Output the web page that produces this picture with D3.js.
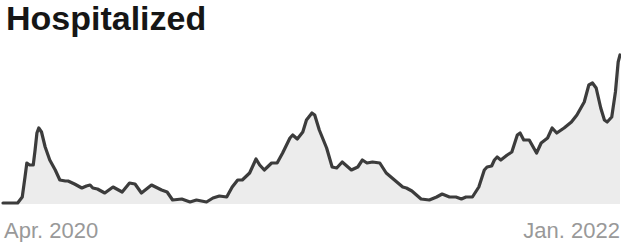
<html>
<head>
<style>
  body { margin: 0; background: #fff; }
</style>
</head>
<body>
<script src="https://d3js.org/d3.v7.min.js"></script>
<div id="chart"></div>
<script>
// dates (7-day average, approx)
const dates = [
  "2020-03-10","2020-03-26","2020-03-31","2020-04-03","2020-04-05","2020-04-08","2020-04-12","2020-04-14",
  "2020-04-16","2020-04-18","2020-04-21","2020-04-25","2020-04-30","2020-05-06","2020-05-11","2020-05-17",
  "2020-05-20","2020-05-27","2020-06-04","2020-06-09","2020-06-13","2020-06-16","2020-06-21","2020-06-27",
  "2020-06-29","2020-07-08","2020-07-18","2020-07-26","2020-08-01","2020-08-08","2020-08-19","2020-08-30",
  "2020-09-05","2020-09-11","2020-09-21","2020-09-30","2020-10-07","2020-10-18","2020-10-25","2020-11-01",
  "2020-11-09","2020-11-15","2020-11-21","2020-11-26","2020-12-04","2020-12-11","2020-12-15","2020-12-20",
  "2020-12-28","2021-01-03","2021-01-09","2021-01-17","2021-01-20","2021-01-25","2021-01-31","2021-02-04",
  "2021-02-10","2021-02-13","2021-02-18","2021-02-26","2021-03-04","2021-03-09","2021-03-15","2021-03-25",
  "2021-04-01","2021-04-06","2021-04-11","2021-04-17","2021-04-25","2021-05-02","2021-05-11","2021-05-20",
  "2021-05-24","2021-05-30","2021-06-09","2021-06-18","2021-06-26","2021-07-02","2021-07-10","2021-07-17",
  "2021-07-23","2021-07-28","2021-08-04","2021-08-11","2021-08-17","2021-08-20","2021-08-25","2021-08-28",
  "2021-08-31","2021-09-04","2021-09-11","2021-09-16","2021-09-22","2021-09-25","2021-09-29","2021-10-05",
  "2021-10-13","2021-10-18","2021-10-25","2021-10-30","2021-11-04","2021-11-12","2021-11-20","2021-11-26",
  "2021-12-04","2021-12-09","2021-12-13","2021-12-17","2021-12-22","2021-12-26","2021-12-29","2022-01-03",
  "2022-01-07","2022-01-10","2022-01-12"
];
const hospitalized = [
  0,0,60,260,400,380,380,530,
  700,750,710,560,430,330,230,220,
  220,190,150,170,180,150,140,110,
  100,160,110,200,190,100,180,130,
  110,30,40,10,30,10,50,70,
  60,160,230,230,300,440,380,330,
  400,400,500,650,680,640,710,830,
  900,880,730,550,360,350,410,330,
  360,430,400,410,400,300,230,160,
  150,120,40,30,60,90,60,60,
  40,60,60,160,330,360,370,430,
  460,430,480,510,680,700,630,630,
  500,600,650,750,700,750,810,880,
  1010,1180,1200,1150,950,830,810,860,
  1110,1410,1480
];
const title = "Hospitalized";
const tickLabels = ["Apr. 2020", "Jan. 2022"];

const width = 621, height = 242;
const parse = d3.timeParse("%Y-%m-%d");
const data = dates.map((d, i) => ({date: parse(d), value: hospitalized[i]}));

const svg = d3.select("#chart").append("svg")
  .attr("width", width)
  .attr("height", height);

const x = d3.scaleTime().domain(d3.extent(data, d => d.date)).range([3, 620]);
const y = d3.scaleLinear().domain([0, d3.max(hospitalized)]).range([203, 55]);

svg.append("path")
  .datum(data)
  .attr("d", d3.area().x(d => x(d.date)).y0(y(0) + 1).y1(d => y(d.value)))
  .style("fill", "#ececec");

svg.append("path")
  .datum(data)
  .attr("d", d3.line().x(d => x(d.date)).y(d => y(d.value)))
  .style("fill", "none")
  .style("stroke", "#3c3c3c")
  .style("stroke-width", 3.2)
  .style("stroke-linejoin", "round")
  .style("stroke-linecap", "round");

svg.append("text")
  .attr("x", 6)
  .attr("y", 30)
  .text(title)
  .style("font-family", "'Liberation Sans', Arial, sans-serif")
  .style("font-weight", "bold")
  .style("font-size", "34px")
  .style("fill", "#161616");

svg.append("text")
  .attr("x", 4)
  .attr("y", 238)
  .text(tickLabels[0])
  .style("font-family", "'Liberation Sans', Arial, sans-serif")
  .style("font-size", "22px")
  .style("fill", "#999");

svg.append("text")
  .attr("x", 620)
  .attr("y", 238)
  .attr("text-anchor", "end")
  .text(tickLabels[1])
  .style("font-family", "'Liberation Sans', Arial, sans-serif")
  .style("font-size", "22px")
  .style("fill", "#999");
</script>
</body>
</html>
